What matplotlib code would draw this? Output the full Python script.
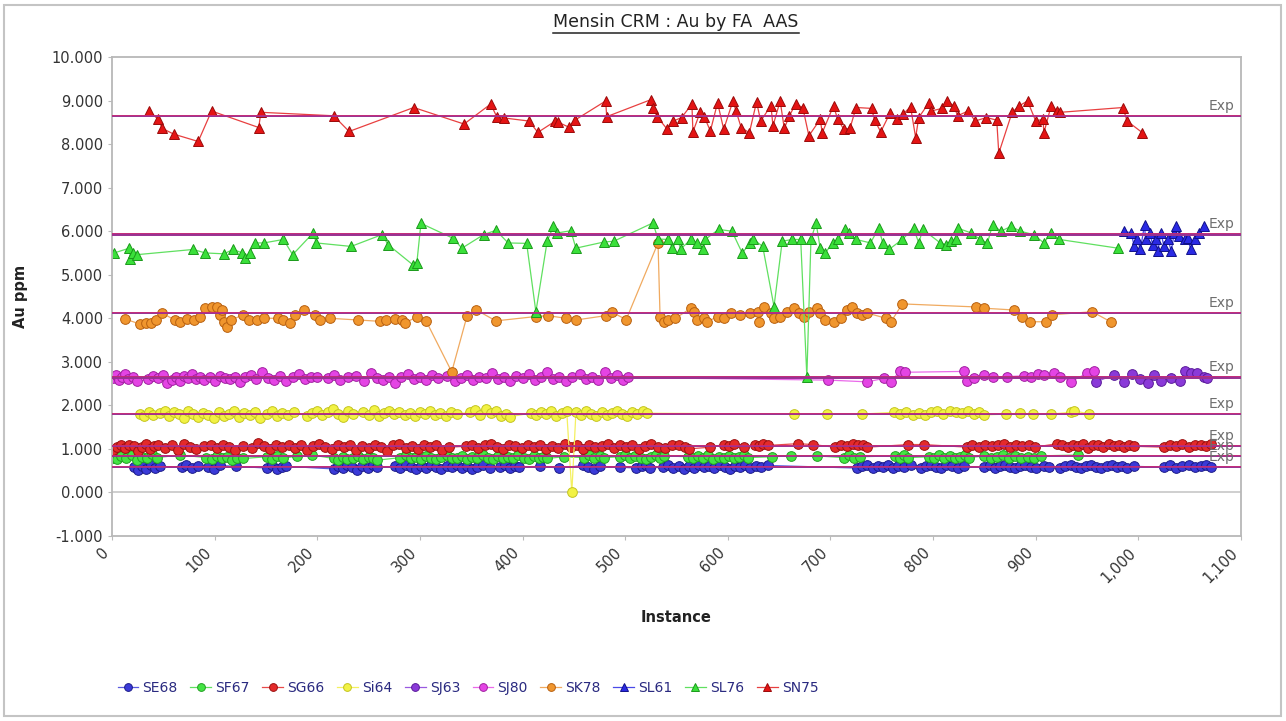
import matplotlib
matplotlib.use('Agg')
import matplotlib.pyplot as plt
from matplotlib.lines import Line2D
from matplotlib.patches import Rectangle
from matplotlib.ticker import FuncFormatter, MultipleLocator

# ---------------- data ----------------
series_names = ['SE68', 'SF67', 'SG66', 'Si64', 'SJ63', 'SJ80', 'SK78', 'SL61', 'SL76', 'SN75']

se68_x = [21, 25, 29, 33, 38, 42, 47, 68, 72, 78,
          84, 94, 99, 105, 121, 151, 156, 161, 166, 170,
          216, 220, 225, 229, 234, 239, 244, 249, 254, 258,
          276, 281, 286, 291, 296, 301, 306, 311, 316, 321,
          326, 331, 336, 341, 346, 351, 356, 361, 368, 378,
          383, 388, 393, 397, 417, 436, 459, 464, 470, 475,
          495, 511, 516, 520, 524, 537, 542, 547, 552, 557,
          562, 567, 572, 577, 582, 587, 592, 597, 602, 607,
          612, 617, 622, 627, 632, 639, 726, 731, 736, 741,
          746, 751, 756, 761, 766, 772, 778, 788, 793, 798,
          803, 808, 813, 818, 824, 830, 850, 855, 860, 865,
          870, 875, 880, 885, 890, 895, 900, 908, 913, 924,
          929, 934, 939, 944, 949, 954, 959, 964, 969, 974,
          979, 984, 989, 996, 1025, 1031, 1037, 1043, 1049, 1055,
          1061, 1066, 1071]
se68_y = [0.58, 0.52, 0.60, 0.54, 0.62, 0.56, 0.60, 0.58, 0.62, 0.56,
          0.60, 0.58, 0.54, 0.62, 0.60, 0.56, 0.62, 0.54, 0.58, 0.60,
          0.54, 0.60, 0.56, 0.62, 0.58, 0.52, 0.60, 0.56, 0.62, 0.58,
          0.60, 0.56, 0.62, 0.58, 0.54, 0.60, 0.56, 0.62, 0.58, 0.54,
          0.60, 0.58, 0.62, 0.56, 0.60, 0.54, 0.58, 0.62, 0.56, 0.58,
          0.62, 0.56, 0.60, 0.58, 0.60, 0.56, 0.62, 0.58, 0.54, 0.60,
          0.58, 0.56, 0.60, 0.62, 0.56, 0.58, 0.62, 0.56, 0.60, 0.54,
          0.60, 0.56, 0.62, 0.58, 0.60, 0.56, 0.62, 0.58, 0.54, 0.60,
          0.58, 0.62, 0.56, 0.60, 0.58, 0.62, 0.56, 0.60, 0.62, 0.56,
          0.60, 0.58, 0.62, 0.56, 0.60, 0.58, 0.62, 0.56, 0.60, 0.62,
          0.58, 0.56, 0.62, 0.60, 0.56, 0.60, 0.58, 0.62, 0.56, 0.60,
          0.62, 0.58, 0.56, 0.60, 0.62, 0.58, 0.56, 0.60, 0.58, 0.56,
          0.60, 0.62, 0.58, 0.56, 0.60, 0.62, 0.58, 0.56, 0.60, 0.62,
          0.58, 0.60, 0.56, 0.60, 0.58, 0.62, 0.56, 0.60, 0.62, 0.58,
          0.60, 0.62, 0.58]

sf67_x = [1, 5, 9, 14, 19, 24, 29, 34, 39, 44,
          66, 92, 97, 102, 107, 112, 117, 122, 128, 151,
          156, 161, 167, 180, 195, 216, 220, 225, 229, 235,
          240, 245, 250, 254, 258, 281, 286, 291, 296, 301,
          306, 311, 316, 321, 326, 331, 336, 341, 346, 351,
          356, 361, 366, 371, 376, 381, 386, 391, 396, 401,
          406, 411, 416, 420, 424, 440, 460, 465, 470, 475,
          479, 495, 500, 505, 510, 515, 520, 525, 530, 534,
          538, 561, 566, 571, 576, 581, 586, 591, 596, 601,
          606, 611, 616, 620, 643, 662, 687, 713, 718, 723,
          729, 763, 768, 772, 776, 796, 801, 806, 811, 816,
          821, 826, 831, 835, 850, 856, 862, 868, 874, 880,
          886, 892, 898, 905, 941]
sf67_y = [0.80, 0.76, 0.84, 0.78, 0.86, 0.74, 0.82, 0.78, 0.88, 0.80,
          0.86, 0.80, 0.76, 0.84, 0.78, 0.82, 0.74, 0.80, 0.78, 0.82,
          0.76, 0.84, 0.78, 0.84, 0.86, 0.78, 0.74, 0.82, 0.76, 0.80,
          0.84, 0.76, 0.82, 0.78, 0.74, 0.80, 0.86, 0.78, 0.82, 0.76,
          0.84, 0.80, 0.76, 0.82, 0.86, 0.78, 0.80, 0.84, 0.76, 0.82,
          0.78, 0.86, 0.80, 0.76, 0.84, 0.80, 0.82, 0.78, 0.86, 0.80,
          0.76, 0.84, 0.80, 0.82, 0.78, 0.82, 0.80, 0.86, 0.78, 0.84,
          0.80, 0.82, 0.86, 0.78, 0.84, 0.80, 0.76, 0.82, 0.86, 0.80,
          0.84, 0.82, 0.78, 0.84, 0.80, 0.86, 0.76, 0.82, 0.80, 0.84,
          0.78, 0.82, 0.86, 0.80, 0.82, 0.84, 0.84, 0.80, 0.86, 0.78,
          0.82, 0.84, 0.78, 0.86, 0.80, 0.82, 0.78, 0.86, 0.80, 0.84,
          0.78, 0.82, 0.86, 0.80, 0.84, 0.78, 0.82, 0.86, 0.80, 0.84,
          0.78, 0.82, 0.80, 0.84, 0.86]

sg66_x = [1, 5, 9, 13, 17, 21, 25, 29, 33, 37,
          41, 45, 52, 58, 64, 70, 76, 82, 90, 96,
          102, 108, 114, 120, 128, 136, 142, 148, 154, 160,
          166, 172, 178, 184, 190, 196, 202, 208, 214, 220,
          226, 232, 238, 244, 250, 256, 262, 268, 274, 280,
          286, 292, 298, 304, 310, 316, 322, 328, 345, 351,
          357, 363, 369, 375, 381, 387, 393, 399, 405, 411,
          417, 423, 429, 435, 441, 447, 453, 459, 465, 471,
          477, 483, 489, 495, 501, 507, 513, 519, 525, 532,
          539, 546, 552, 558, 562, 583, 596, 601, 606, 616,
          626, 630, 634, 639, 668, 683, 704, 710, 716, 722,
          727, 732, 736, 776, 791, 833, 838, 845, 851, 857,
          863, 869, 875, 881, 887, 893, 899, 921, 926, 931,
          936, 941, 946, 951, 956, 961, 966, 971, 976, 981,
          986, 991, 996, 1025, 1031, 1037, 1043, 1049, 1055, 1061,
          1066, 1071]
sg66_y = [0.98, 1.04, 1.08, 1.02, 1.10, 1.06, 0.96, 1.04, 1.12, 1.00,
          1.06, 1.10, 1.02, 1.08, 0.98, 1.12, 1.04, 1.00, 1.06, 1.08,
          1.02, 1.10, 1.04, 0.98, 1.06, 1.02, 1.14, 1.06, 1.00, 1.08,
          1.04, 1.10, 1.02, 1.08, 0.98, 1.06, 1.12, 1.04, 1.00, 1.08,
          1.04, 1.10, 0.98, 1.06, 1.02, 1.10, 1.04, 0.96, 1.08, 1.12,
          1.02, 1.06, 1.00, 1.10, 1.04, 1.08, 0.98, 1.04, 1.06, 1.10,
          1.02, 1.08, 1.12, 1.04, 1.00, 1.10, 1.06, 1.02, 1.08, 1.04,
          1.10, 1.00, 1.06, 1.02, 1.12, 1.04, 1.08, 1.00, 1.10, 1.04,
          1.06, 1.12, 1.02, 1.08, 1.04, 1.10, 1.00, 1.06, 1.12, 1.04,
          1.02, 1.08, 1.10, 1.04, 1.00, 1.04, 1.10, 1.06, 1.12, 1.04,
          1.10, 1.06, 1.12, 1.08, 1.12, 1.10, 1.04, 1.10, 1.06, 1.12,
          1.08, 1.10, 1.04, 1.10, 1.10, 1.04, 1.08, 1.04, 1.10, 1.06,
          1.08, 1.12, 1.04, 1.10, 1.06, 1.10, 1.04, 1.12, 1.08, 1.04,
          1.10, 1.06, 1.12, 1.02, 1.08, 1.10, 1.04, 1.12, 1.06, 1.10,
          1.04, 1.08, 1.06, 1.04, 1.10, 1.06, 1.12, 1.04, 1.08, 1.10,
          1.06, 1.12]

si64_x = [27, 31, 36, 40, 47, 52, 56, 60, 65, 70,
          74, 79, 84, 89, 94, 99, 104, 109, 114, 119,
          124, 129, 134, 139, 144, 151, 156, 161, 166, 171,
          177, 190, 195, 200, 205, 210, 215, 220, 225, 230,
          235, 245, 250, 255, 260, 265, 270, 275, 280, 285,
          290, 295, 300, 305, 310, 315, 320, 325, 330, 336,
          349, 354, 359, 364, 369, 374, 379, 384, 388, 408,
          413, 418, 423, 428, 433, 438, 443, 448, 452, 457,
          462, 467, 472, 477, 482, 487, 492, 497, 502, 507,
          512, 517, 521, 664, 697, 731, 762, 768, 774, 780,
          786, 792, 798, 804, 810, 816, 822, 828, 834, 840,
          845, 850, 871, 885, 897, 915, 934, 937, 952]
si64_y = [1.80, 1.76, 1.84, 1.78, 1.82, 1.88, 1.76, 1.84, 1.80, 1.72,
          1.86, 1.80, 1.74, 1.82, 1.78, 1.70, 1.84, 1.76, 1.80, 1.86,
          1.74, 1.82, 1.78, 1.84, 1.72, 1.80, 1.86, 1.76, 1.82, 1.78,
          1.84, 1.76, 1.82, 1.88, 1.78, 1.84, 1.92, 1.80, 1.74, 1.86,
          1.80, 1.84, 1.78, 1.90, 1.76, 1.82, 1.86, 1.80, 1.84, 1.78,
          1.82, 1.76, 1.84, 1.80, 1.86, 1.78, 1.82, 1.76, 1.84, 1.80,
          1.84, 1.90, 1.78, 1.92, 1.82, 1.86, 1.76, 1.80, 1.74, 1.82,
          1.78, 1.84, 1.80, 1.86, 1.76, 1.82, 1.88, 0.00, 1.84, 1.78,
          1.86, 1.80, 1.76, 1.84, 1.78, 1.82, 1.86, 1.80, 1.76, 1.84,
          1.80, 1.86, 1.82, 1.80, 1.80, 1.80, 1.84, 1.80, 1.84, 1.78,
          1.82, 1.78, 1.84, 1.86, 1.80, 1.88, 1.84, 1.82, 1.86, 1.80,
          1.84, 1.78, 1.80, 1.82, 1.80, 1.80, 1.84, 1.88, 1.80]

sj63_x = [959, 976, 986, 994, 1002, 1009, 1015, 1022, 1032, 1041,
          1045, 1051, 1057, 1064, 1067]
sj63_y = [2.54, 2.70, 2.54, 2.72, 2.60, 2.52, 2.70, 2.56, 2.62, 2.56,
          2.78, 2.74, 2.74, 2.64, 2.62]

sj80_x = [1, 4, 7, 10, 13, 16, 20, 24, 35, 40,
          45, 50, 54, 58, 62, 66, 70, 74, 78, 82,
          86, 90, 95, 100, 105, 110, 115, 120, 125, 130,
          135, 140, 146, 152, 158, 164, 170, 176, 182, 188,
          194, 200, 210, 216, 222, 230, 238, 246, 252, 258,
          264, 270, 276, 282, 288, 294, 300, 306, 312, 318,
          326, 334, 340, 346, 352, 358, 364, 370, 376, 382,
          388, 394, 400, 406, 412, 418, 424, 430, 436, 442,
          448, 456, 462, 468, 474, 480, 486, 492, 498, 503,
          698, 736, 752, 759, 768, 773, 830, 833, 840, 850,
          858, 872, 889, 895, 902, 908, 918, 924, 934, 950,
          957]
sj80_y = [2.63, 2.70, 2.58, 2.66, 2.72, 2.60, 2.66, 2.55, 2.60, 2.68,
          2.62, 2.70, 2.52, 2.58, 2.64, 2.56, 2.68, 2.62, 2.72, 2.60,
          2.66, 2.58, 2.64, 2.56, 2.68, 2.62, 2.60, 2.66, 2.54, 2.64,
          2.70, 2.60, 2.76, 2.62, 2.58, 2.68, 2.56, 2.66, 2.72, 2.60,
          2.64, 2.66, 2.62, 2.70, 2.58, 2.64, 2.68, 2.56, 2.74, 2.62,
          2.58, 2.66, 2.52, 2.64, 2.72, 2.60, 2.66, 2.58, 2.70, 2.62,
          2.68, 2.56, 2.62, 2.70, 2.58, 2.66, 2.62, 2.74, 2.60, 2.66,
          2.56, 2.68, 2.62, 2.72, 2.58, 2.64, 2.76, 2.60, 2.66, 2.56,
          2.64, 2.72, 2.60, 2.66, 2.58, 2.76, 2.62, 2.70, 2.58, 2.64,
          2.58, 2.54, 2.62, 2.54, 2.80, 2.76, 2.78, 2.56, 2.62, 2.70,
          2.66, 2.66, 2.68, 2.64, 2.72, 2.70, 2.74, 2.66, 2.54, 2.74,
          2.80]

sk78_x = [13, 27, 33, 38, 43, 49, 61, 66, 73, 80,
          86, 91, 97, 102, 105, 107, 109, 112, 116, 128,
          133, 141, 148, 162, 167, 173, 178, 187, 198, 203,
          212, 240, 261, 267, 276, 283, 285, 297, 306, 331,
          346, 355, 374, 413, 425, 442, 452, 481, 487, 501,
          532, 534, 538, 542, 549, 564, 567, 570, 577, 580,
          590, 596, 603, 612, 622, 629, 630, 635, 642, 645,
          651, 658, 664, 669, 674, 679, 687, 690, 695, 703,
          710, 716, 721, 726, 731, 736, 754, 759, 770, 842,
          850, 879, 887, 894, 910, 916, 955, 973]
sk78_y = [3.98, 3.87, 3.89, 3.90, 3.96, 4.12, 3.96, 3.92, 3.99, 3.96,
          4.04, 4.23, 4.27, 4.27, 4.08, 4.19, 3.92, 3.81, 3.96, 4.08,
          3.96, 3.96, 4.00, 4.00, 3.96, 3.89, 4.08, 4.19, 4.08, 3.96,
          4.00, 3.96, 3.93, 3.95, 3.98, 3.96, 3.89, 4.03, 3.94, 2.77,
          4.06, 4.19, 3.94, 4.04, 4.06, 4.00, 3.96, 4.06, 4.14, 3.97,
          5.73, 4.02, 3.92, 3.95, 4.00, 4.23, 4.15, 3.96, 4.00, 3.92,
          4.04, 4.00, 4.12, 4.08, 4.12, 4.15, 3.92, 4.27, 4.12, 4.00,
          4.04, 4.15, 4.23, 4.12, 4.04, 4.15, 4.23, 4.12, 3.96, 3.92,
          4.00, 4.19, 4.27, 4.12, 4.08, 4.12, 4.00, 3.92, 4.33, 4.26,
          4.23, 4.19, 4.04, 3.92, 3.92, 4.08, 4.15, 3.92]

sl61_x = [986, 993, 996, 999, 1002, 1006, 1007, 1011, 1014, 1017,
          1019, 1022, 1025, 1029, 1032, 1035, 1037, 1040, 1045, 1048,
          1051, 1055, 1059, 1064]
sl61_y = [6.00, 5.96, 5.65, 5.81, 5.58, 6.15, 5.81, 5.96, 5.69, 5.81,
          5.54, 5.96, 5.65, 5.81, 5.54, 5.96, 6.11, 5.88, 5.81, 5.84,
          5.58, 5.81, 5.96, 6.11]

sl76_x = [2, 17, 18, 20, 24, 79, 91, 109, 118, 127,
          130, 134, 139, 148, 167, 176, 196, 199, 233, 263,
          269, 293, 297, 301, 332, 341, 362, 374, 386, 404,
          413, 424, 430, 434, 447, 452, 479, 489, 527, 532,
          542, 546, 551, 554, 564, 570, 576, 578, 591, 604,
          614, 622, 625, 634, 645, 653, 663, 671, 677, 681,
          686, 690, 695, 702, 707, 714, 718, 725, 739, 747,
          751, 757, 770, 781, 786, 790, 807, 813, 817, 822,
          824, 837, 846, 853, 858, 866, 876, 885, 898, 908,
          915, 923, 980]
sl76_y = [5.50, 5.61, 5.36, 5.50, 5.46, 5.58, 5.50, 5.48, 5.58, 5.50,
          5.38, 5.50, 5.73, 5.73, 5.81, 5.46, 5.96, 5.73, 5.65, 5.92,
          5.69, 5.23, 5.27, 6.18, 5.84, 5.61, 5.92, 6.02, 5.73, 5.72,
          4.15, 5.77, 6.11, 5.96, 6.01, 5.61, 5.75, 5.77, 6.19, 5.82,
          5.81, 5.61, 5.81, 5.59, 5.81, 5.73, 5.59, 5.81, 6.04, 6.00,
          5.50, 5.73, 5.81, 5.65, 4.27, 5.77, 5.81, 5.81, 2.66, 5.81,
          6.19, 5.61, 5.50, 5.73, 5.81, 6.05, 5.96, 5.81, 5.73, 6.07,
          5.73, 5.58, 5.81, 6.07, 5.73, 6.04, 5.73, 5.69, 5.77, 5.81,
          6.07, 5.96, 5.81, 5.73, 6.15, 6.00, 6.11, 6.00, 5.92, 5.73,
          5.96, 5.81, 5.61]

sn75_x = [36, 45, 49, 60, 84, 97, 143, 145, 216, 231,
          294, 343, 369, 375, 382, 406, 415, 432, 435, 445,
          451, 481, 482, 525, 527, 531, 541, 547, 555, 565,
          566, 573, 577, 583, 590, 596, 605, 608, 613, 621,
          628, 632, 642, 644, 651, 655, 660, 666, 673, 679,
          690, 692, 703, 707, 713, 719, 725, 740, 743, 749,
          758, 765, 771, 778, 783, 786, 796, 798, 809, 814,
          820, 824, 834, 841, 852, 862, 864, 877, 884, 892,
          900, 907, 908, 915, 921, 924, 985, 989, 1004]
sn75_y = [8.76, 8.57, 8.36, 8.23, 8.06, 8.76, 8.38, 8.73, 8.65, 8.29,
          8.84, 8.46, 8.92, 8.62, 8.60, 8.53, 8.27, 8.53, 8.50, 8.39,
          8.55, 8.99, 8.63, 9.02, 8.84, 8.63, 8.34, 8.53, 8.61, 8.92,
          8.28, 8.73, 8.63, 8.30, 8.95, 8.34, 8.99, 8.76, 8.38, 8.26,
          8.97, 8.53, 8.88, 8.42, 8.99, 8.36, 8.65, 8.92, 8.84, 8.19,
          8.57, 8.26, 8.88, 8.57, 8.34, 8.36, 8.84, 8.82, 8.55, 8.28,
          8.71, 8.57, 8.69, 8.86, 8.15, 8.61, 8.95, 8.76, 8.82, 8.99,
          8.88, 8.65, 8.76, 8.53, 8.61, 8.55, 7.79, 8.73, 8.88, 8.99,
          8.53, 8.57, 8.26, 8.88, 8.76, 8.73, 8.84, 8.53, 8.26]

# expected values (horizontal "Exp" lines)
exp_values = [0.58, 0.83, 1.06, 1.80, 2.62, 2.645, 4.12, 5.905, 5.935, 8.65]

y_ticks = [-1, 0, 1, 2, 3, 4, 5, 6, 7, 8, 9, 10]
x_ticks = [0, 100, 200, 300, 400, 500, 600, 700, 800, 900, 1000, 1100]

# ---------------- styles ----------------
xs = [se68_x, sf67_x, sg66_x, si64_x, sj63_x, sj80_x, sk78_x, sl61_x, sl76_x, sn75_x]
ys = [se68_y, sf67_y, sg66_y, si64_y, sj63_y, sj80_y, sk78_y, sl61_y, sl76_y, sn75_y]
markers = ['o', 'o', 'o', 'o', 'o', 'o', 'o', '^', '^', '^']
fills = ['#3a3ad8', '#44e444', '#e42a2a', '#f2f244', '#8a3ad8', '#e444e4',
         '#f0962e', '#2a2ae4', '#3ae03a', '#e41414']
edges = ['#1c1c8a', '#22a022', '#9a1010', '#c4c420', '#5a1a9a', '#a020a0',
         '#b86010', '#10108a', '#1a9a1a', '#9a0a0a']
lines = ['#5a5ae0', '#60e060', '#e84a4a', '#f4f060', '#9a5ae0', '#ea6aea',
         '#f0aa60', '#4a4ae8', '#60e060', '#e84040']

W, H = 1286, 721
fig = plt.figure(figsize=(W / 100, H / 100), dpi=100)
fig.patch.set_facecolor('white')
fig.add_artist(Rectangle((4 / W, 5 / H), (W - 9) / W, (H - 10) / H, transform=fig.transFigure,
                         fill=False, edgecolor='#c4c4c4', lw=1.5))

ax = fig.add_axes([112 / W, 1 - 536 / H, (1241 - 112) / W, (536 - 57) / H])
ax.set_xlim(0, 1100)
ax.set_ylim(-1, 10)

ax.axhline(0, color='#cccccc', lw=1.3, zorder=0.5)

for i, name in enumerate(series_names):
    ms = 7 if markers[i] == 'o' else 7
    ax.plot(xs[i], ys[i], color=lines[i], lw=0.9, marker=markers[i], ms=ms,
            mfc=fills[i], mec=edges[i], mew=0.7, label=name, zorder=2 + i * 0.05)

for v in exp_values:
    ax.axhline(v, color='#c22a78', lw=1.4, zorder=4)
    ax.axhline(v, color='#7a3aa8', lw=0.4, zorder=4.1)

exp_label_y = [0.58, 0.83, 1.06, 1.80, 2.645, 4.12, 5.935, 8.65]
for v in exp_label_y:
    ax.text(1068, v + 0.07, 'Exp', fontsize=10, color='#6e6e6e', ha='left', va='bottom', zorder=5)

ax.set_xticks(x_ticks)
ax.set_yticks(y_ticks)
ax.xaxis.set_major_formatter(FuncFormatter(lambda v, p: '{:,.0f}'.format(v)))
ax.yaxis.set_major_formatter(FuncFormatter(lambda v, p: '{:.3f}'.format(v)))
ax.tick_params(axis='both', colors='#bbbbbb', labelcolor='#333333', labelsize=10.5,
               length=3, width=0.8)
for lbl in ax.get_xticklabels():
    lbl.set_rotation(45)
    lbl.set_ha('right')
    lbl.set_va('top')

for s in ax.spines.values():
    s.set_color('#b8b8b8')
    s.set_linewidth(1.3)

ax.set_xlabel('Instance', fontsize=10.5, fontweight='bold', color='#222222', labelpad=0)
ax.xaxis.set_label_coords(0.5, (536 - 610) / (536 - 57))
ax.set_ylabel('Au ppm', fontsize=10.5, fontweight='bold', color='#222222')
ax.yaxis.set_label_coords((28 - 112) / (1241 - 112), 0.5)

t = fig.text(676 / W, 1 - 22 / H, 'Mensin CRM : Au by FA  AAS', ha='center', va='center',
             fontsize=12.5, color='#222222')
fig.canvas.draw()
bb = t.get_window_extent()
fig.add_artist(Line2D([bb.x0 / W, bb.x1 / W], [(bb.y0 - 1.5) / H] * 2, color='#222222', lw=1.1))

handles = ax.get_lines()[1:1 + len(series_names)]
leg = fig.legend(handles, series_names, loc='center left', bbox_to_anchor=(112 / W, 1 - 688 / H),
                 ncol=10, frameon=False, fontsize=10, handlelength=1.5, handletextpad=0.3,
                 columnspacing=0.9, borderaxespad=0, markerscale=0.8)
for txt in leg.get_texts():
    txt.set_color('#2a2a80')

fig.savefig('out.png', dpi=100, facecolor='white')
